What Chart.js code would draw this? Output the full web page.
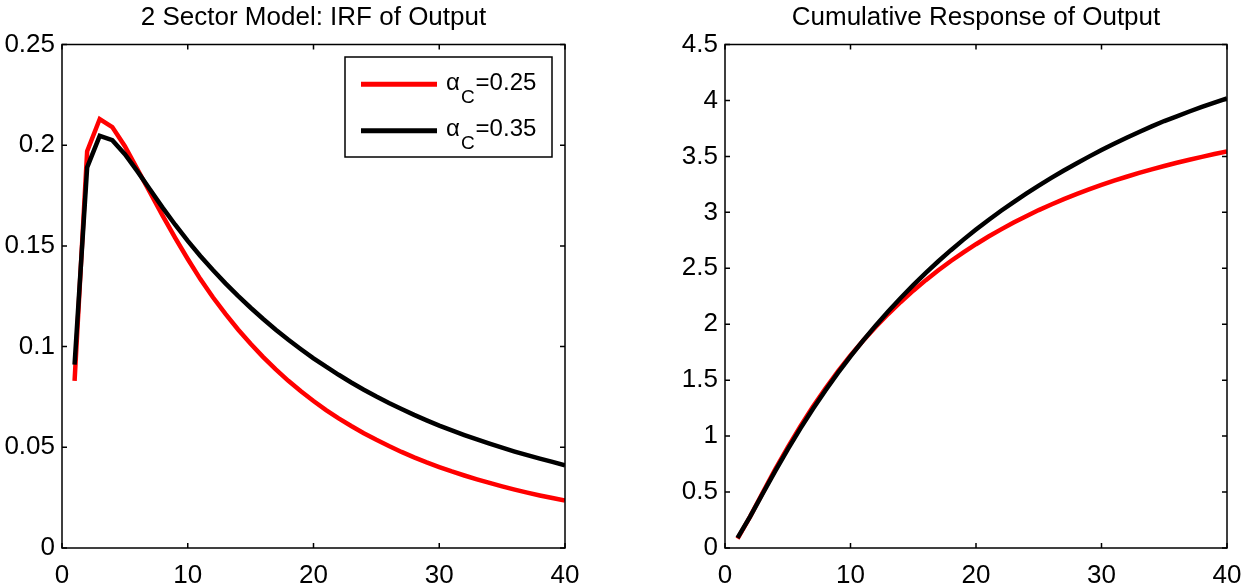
<!DOCTYPE html>
<html>
<head>
<meta charset="utf-8">
<script src="https://cdn.jsdelivr.net/npm/chart.js@4.4.1/dist/chart.umd.min.js"></script>
<style>
  body { margin: 0; background: #fff; }
  #wrap { position: relative; width: 1243px; height: 585px; overflow: hidden; }
  canvas { position: absolute; top: 0; }
  #irfChart { left: 0; }
  #cumChart { left: 620px; }
</style>
</head>
<body>
<div id="wrap">
  <canvas id="irfChart" width="620" height="585"></canvas>
  <canvas id="cumChart" width="623" height="585"></canvas>
</div>
<script>
// horizon (quarters after the shock)
const periods = [1, 2, 3, 4, 5, 6, 7, 8, 9, 10, 11, 12, 13, 14, 15, 16, 17, 18, 19, 20,
                 21, 22, 23, 24, 25, 26, 27, 28, 29, 30, 31, 32, 33, 34, 35, 36, 37, 38, 39, 40];

// capital share in the consumption sector, one series per value
const alphaValues = ['0.25', '0.35'];
const lineColors = ['#ff0000', '#000000'];

// impulse response of output
const irfLow = [0.083, 0.197, 0.213, 0.209, 0.1995, 0.188, 0.1765, 0.165, 0.154, 0.1435,
                0.1335, 0.1245, 0.1162, 0.1085, 0.1014, 0.0948, 0.0887, 0.0830, 0.0778, 0.0730,
                0.0685, 0.0644, 0.0606, 0.0570, 0.0537, 0.0506, 0.0477, 0.0450, 0.0425, 0.0402,
                0.0380, 0.0360, 0.0341, 0.0323, 0.0306, 0.0290, 0.0275, 0.0261, 0.0248, 0.0236];
const irfHigh = [0.091, 0.189, 0.2046, 0.2025, 0.1955, 0.1870, 0.1780, 0.1690, 0.1605, 0.1525,
                 0.1450, 0.1380, 0.1314, 0.1252, 0.1193, 0.1137, 0.1084, 0.1034, 0.0987, 0.0942,
                 0.0900, 0.0860, 0.0822, 0.0786, 0.0752, 0.0720, 0.0690, 0.0661, 0.0634, 0.0608,
                 0.0584, 0.0561, 0.0539, 0.0518, 0.0498, 0.0479, 0.0461, 0.0444, 0.0428, 0.0410];

// cumulative response of output
const cumLow = [0.083, 0.280, 0.493, 0.702, 0.900, 1.087, 1.262, 1.426, 1.579, 1.721,
                1.853, 1.976, 2.091, 2.199, 2.300, 2.394, 2.482, 2.565, 2.642, 2.715,
                2.784, 2.848, 2.909, 2.966, 3.020, 3.070, 3.118, 3.163, 3.205, 3.245,
                3.283, 3.318, 3.352, 3.384, 3.414, 3.443, 3.470, 3.496, 3.521, 3.545];
const cumHigh = [0.091, 0.280, 0.485, 0.687, 0.882, 1.067, 1.242, 1.408, 1.565, 1.713,
                 1.853, 1.987, 2.114, 2.235, 2.350, 2.459, 2.563, 2.662, 2.756, 2.846,
                 2.932, 3.014, 3.092, 3.167, 3.239, 3.308, 3.374, 3.437, 3.498, 3.556,
                 3.612, 3.666, 3.718, 3.768, 3.816, 3.858, 3.901, 3.942, 3.981, 4.018];

const xTicks = [0, 10, 20, 30, 40];
const irfTicks = [0, 0.05, 0.1, 0.15, 0.2, 0.25];
const cumTicks = [0, 0.5, 1, 1.5, 2, 2.5, 3, 3.5, 4, 4.5];

const FONT = '"Liberation Sans", Arial, Helvetica, sans-serif';

function toPoints(values) {
  return periods.map((p, i) => ({ x: p, y: values[i] }));
}

// matlab style frame: full box plus inward ticks on all four sides
const boxPlugin = {
  id: 'boxFrame',
  afterDatasetsDraw(chart) {
    const { ctx, chartArea: a, scales: { x, y } } = chart;
    const len = 5;
    ctx.save();
    ctx.strokeStyle = '#000';
    ctx.lineWidth = 1.5;
    ctx.strokeRect(a.left, a.top, a.right - a.left, a.bottom - a.top);
    ctx.beginPath();
    x.ticks.forEach(t => {
      const px = x.getPixelForValue(t.value);
      ctx.moveTo(px, a.bottom); ctx.lineTo(px, a.bottom - len);
      ctx.moveTo(px, a.top); ctx.lineTo(px, a.top + len);
    });
    y.ticks.forEach(t => {
      const py = y.getPixelForValue(t.value);
      ctx.moveTo(a.left, py); ctx.lineTo(a.left + len, py);
      ctx.moveTo(a.right, py); ctx.lineTo(a.right - len, py);
    });
    ctx.stroke();
    ctx.restore();
  }
};

// legend box with subscripted alpha labels, upper right of the plot
const alphaLegend = {
  id: 'alphaLegend',
  afterDraw(chart) {
    const { ctx, chartArea: a } = chart;
    const right = a.right - 13;
    const left = right - 207;
    const top = a.top + 12.5;
    ctx.save();
    ctx.fillStyle = '#fff';
    ctx.fillRect(left, top, 207, 100);
    ctx.strokeStyle = '#000';
    ctx.lineWidth = 1.5;
    ctx.strokeRect(left, top, 207, 100);
    chart.data.datasets.forEach((ds, i) => {
      const ly = top + 27.3 + i * 46.4;
      ctx.beginPath();
      ctx.strokeStyle = ds.borderColor;
      ctx.lineWidth = 5;
      ctx.moveTo(left + 16, ly);
      ctx.lineTo(left + 92, ly);
      ctx.stroke();
      ctx.fillStyle = '#000';
      ctx.textBaseline = 'alphabetic';
      let tx = left + 101;
      ctx.font = '24px ' + FONT;
      ctx.fillText('\u03b1', tx, ly + 5.5);
      tx += ctx.measureText('\u03b1').width + 1;
      ctx.font = '19px ' + FONT;
      ctx.fillText('C', tx, ly + 18.4);
      tx += ctx.measureText('C').width + 1;
      ctx.font = '24px ' + FONT;
      ctx.fillText('=' + alphaValues[i], tx, ly + 5.5);
    });
    ctx.restore();
  }
};

function makeChart(id, title, series, yTicks, yMax, yWidth, padRight, withLegend) {
  const datasets = series.map((vals, i) => ({
    label: '\u03b1C=' + alphaValues[i],
    data: toPoints(vals),
    borderColor: lineColors[i],
    borderWidth: 4.5,
    pointRadius: 0,
    tension: 0,
    borderCapStyle: 'butt',
    borderJoinStyle: 'miter',
    fill: false,
    order: series.length - i
  }));
  return new Chart(document.getElementById(id), {
    type: 'line',
    data: { datasets },
    options: {
      responsive: false,
      animation: false,
      layout: { padding: { left: 0, right: padRight, top: 0, bottom: 0 } },
      plugins: {
        legend: { display: false },
        tooltip: { enabled: false },
        title: {
          display: true,
          fullSize: false,
          text: title,
          color: '#000',
          font: { family: FONT, size: 26, weight: 'normal', lineHeight: 1.2 },
          padding: { top: 2, bottom: 11.3 }
        }
      },
      scales: {
        x: {
          type: 'linear',
          min: 0,
          max: 40,
          grid: { display: false, drawTicks: false, tickLength: 0 },
          border: { display: false },
          afterBuildTicks: s => { s.ticks = xTicks.map(v => ({ value: v })); },
          afterFit: s => { s.height = 37; s.paddingLeft = 0; s.paddingRight = 0; },
          ticks: {
            color: '#000',
            padding: 12,
            maxRotation: 0,
            font: { family: FONT, size: 26 },
            callback: v => String(v)
          }
        },
        y: {
          type: 'linear',
          min: 0,
          max: yMax,
          grid: { display: false, drawTicks: false, tickLength: 0 },
          border: { display: false },
          afterBuildTicks: s => { s.ticks = yTicks.map(v => ({ value: v })); },
          afterFit: s => { s.width = yWidth; s.paddingTop = 0; s.paddingBottom = 0; },
          ticks: {
            color: '#000',
            padding: 7,
            font: { family: FONT, size: 26 },
            callback: v => String(v)
          }
        }
      }
    },
    plugins: withLegend ? [boxPlugin, alphaLegend] : [boxPlugin]
  });
}

makeChart('irfChart', '2 Sector Model: IRF of Output', [irfLow, irfHigh], irfTicks, 0.25, 62, 55, true);
makeChart('cumChart', 'Cumulative Response of Output', [cumLow, cumHigh], cumTicks, 4.5, 105, 16, false);
</script>
</body>
</html>
